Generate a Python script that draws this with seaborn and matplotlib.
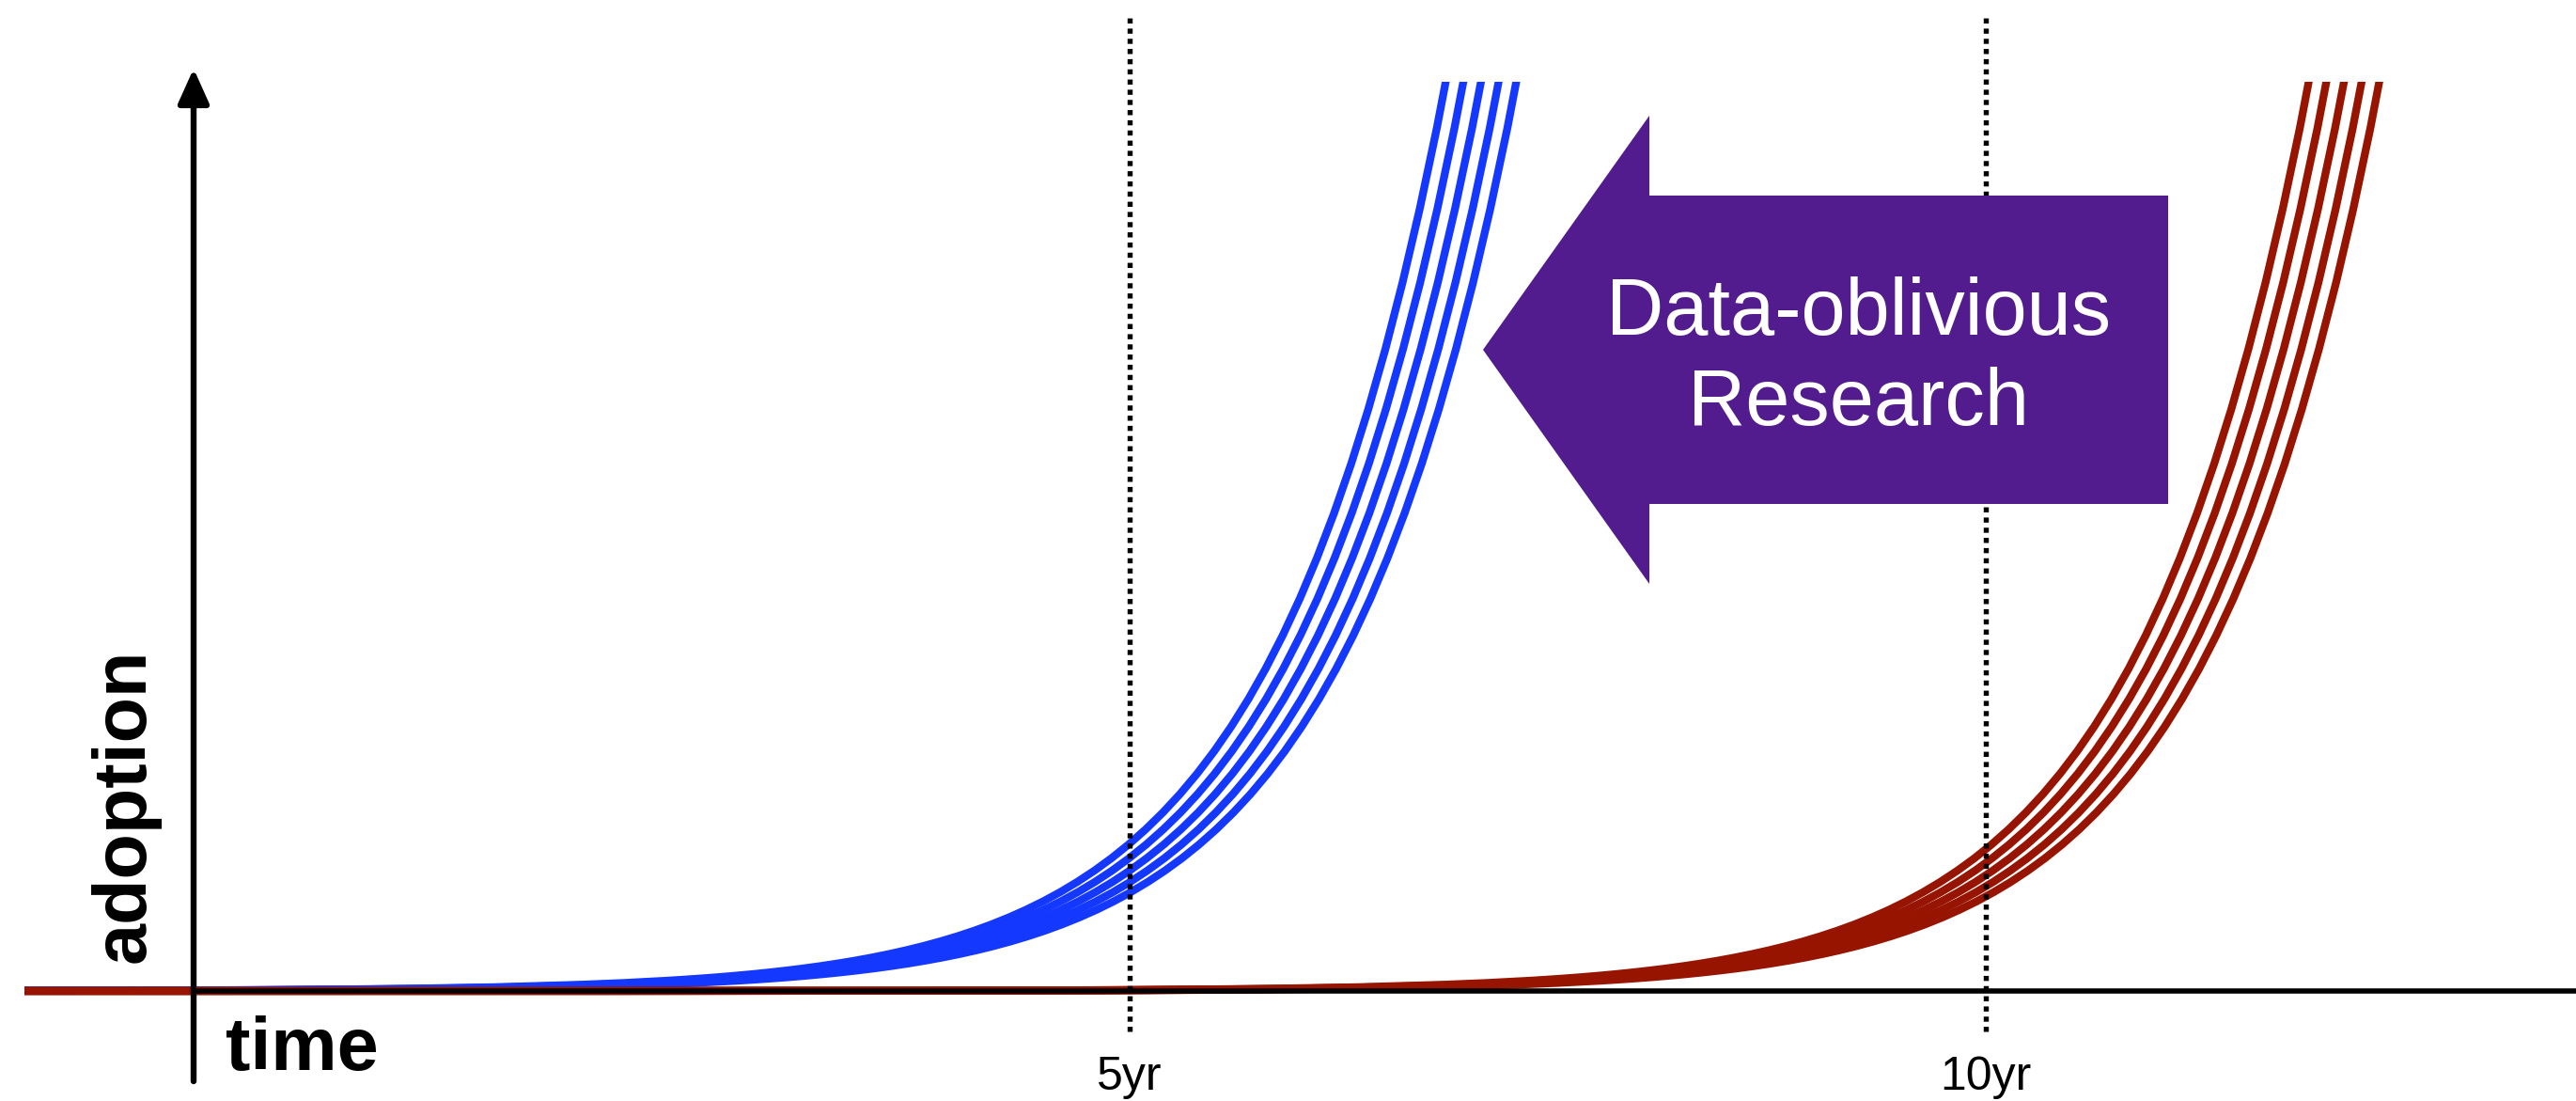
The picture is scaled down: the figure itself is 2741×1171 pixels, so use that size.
import matplotlib
matplotlib.use("Agg")
import matplotlib.pyplot as plt
from matplotlib.patches import Polygon
import pandas as pd
import seaborn as sns

# Adoption along the reference trajectory, read at these years
base_years = [-7.0, -3.0, -1.5, -1.0, -0.5, 0.0, 0.5, 1.0, 1.5, 2.0, 2.25,
              2.5, 2.6, 2.7, 2.8, 2.9, 3.0, 3.1, 3.2, 3.3, 3.4,
              3.5, 3.6, 3.7, 3.8, 3.9, 4.0, 4.1, 4.2, 4.3, 4.4,
              4.5, 4.6, 4.7, 4.8, 4.9, 5.0, 5.1, 5.2, 5.3, 5.4,
              5.5, 5.6, 5.7, 5.8, 5.9, 6.0, 6.1, 6.2, 6.3, 6.4,
              6.5, 6.6, 6.7, 6.8, 6.9, 7.0, 7.1, 7.2, 7.3]
base_adoption = [0.0, 0.0005, 0.0021, 0.0035, 0.0057, 0.0093, 0.0152, 0.0249, 0.0407, 0.0667, 0.0853,
                 0.1091, 0.1204, 0.1329, 0.1466, 0.1618, 0.1785, 0.1970, 0.2174, 0.2399, 0.2648,
                 0.2922, 0.3224, 0.3558, 0.3926, 0.4332, 0.4780, 0.5275, 0.5821, 0.6423, 0.7088,
                 0.7822, 0.8632, 0.9525, 1.0511, 1.1599, 1.2800, 1.4125, 1.5587, 1.7201, 1.8981,
                 2.0946, 2.3114, 2.5507, 2.8147, 3.1061, 3.4276, 3.7824, 4.1739, 4.6060, 5.0828,
                 5.6089, 6.1895, 6.8302, 7.5372, 8.3174, 9.1783, 10.1284, 11.1768, 12.3337]

# Five neighbouring trajectories in each bundle, offset in years
curve_offsets = [-0.206, -0.103, 0.0, 0.103, 0.206]

# Two bundles: the later one trails the earlier one by about five years
tracks = ["early", "late"]
track_shift = [0.0, 5.04]
track_colors = ["#1538FF", "#961400"]

milestone_years = [5, 10]
milestone_labels = ["5yr", "10yr"]

callout_lines = ["Data-oblivious", "Research"]

rows = []
for track, shift in zip(tracks, track_shift):
    for k, off in enumerate(curve_offsets):
        for yr, val in zip(base_years, base_adoption):
            rows.append({"track": track, "curve": f"{track}-{k}",
                         "year": yr + shift + off, "adoption": val})
df = pd.DataFrame(rows)

sns.set_style("white")
plt.rcParams["font.family"] = ["Liberation Sans", "DejaVu Sans"]

W, H = 2741, 1171
fig = plt.figure(figsize=(W / 100, H / 100), dpi=100)
fig.patch.set_facecolor("white")

# layout in pixels: year 0 at x=291, 182.2 px per year; baseline at y=1054, 100 px per unit
X0, PXY, Y0, PXU = 291.0, 182.2, 1054.0, 100.0
LEFT, TOP = 26, 87


def dx(px):
    return (px - X0) / PXY


def dy(py):
    return (Y0 - py) / PXU


ax = fig.add_axes([LEFT / W, 0, 1 - LEFT / W, (H - TOP) / H])

sns.lineplot(data=df, x="year", y="adoption", hue="track", hue_order=tracks,
             units="curve", estimator=None, sort=False,
             palette=dict(zip(tracks, track_colors)), linewidth=6.0,
             legend=False, ax=ax)
for ln in ax.lines:
    ln.set_zorder(2)
    ln.set_solid_capstyle("butt")
    ln.set_solid_joinstyle("round")

ax.set_xlim(dx(LEFT), dx(W))
ax.set_ylim(dy(H), dy(TOP))
ax.axis("off")

# milestone guides
ax.vlines(milestone_years, dy(1097), dy(17), colors="black",
          linestyles=(0, (1, 1.0)), linewidth=3.9, zorder=3, clip_on=False)
for yr, lab in zip(milestone_years, milestone_labels):
    ax.text(yr, dy(1159), lab, ha="center", va="baseline", fontsize=36,
            color="black", clip_on=False)

# time axis
ax.plot([dx(206), dx(W)], [0, 0], color="black", linewidth=4.0,
        solid_capstyle="butt", zorder=6, clip_on=False)

# adoption axis with arrow head
ax.annotate("", xy=(dx(206), dy(73)), xytext=(dx(206), dy(1150)),
            arrowprops=dict(arrowstyle="-|>,head_length=0.8,head_width=0.36",
                            mutation_scale=28, linewidth=4.6, color="black",
                            shrinkA=0, shrinkB=0),
            annotation_clip=False, zorder=7)

ax.text(dx(240), dy(1138), "time", fontsize=57, fontweight="bold",
        ha="left", va="baseline", color="black")
ax.text(dx(133), dy(857), "adoption", fontsize=57, fontweight="bold",
        rotation=90, ha="center", va="center", color="black")

# leftward call-out arrow
arrow_px = [(1578, 372), (1755, 123), (1755, 208), (2307, 208),
            (2307, 536), (1755, 536), (1755, 621)]
arrow = Polygon([(dx(x), dy(y)) for x, y in arrow_px], closed=True,
                facecolor="#521C8F", edgecolor="none", zorder=4, clip_on=False)
ax.add_patch(arrow)

ax.text(dx(1978), dy(356), callout_lines[0], fontsize=61, color="white",
        ha="center", va="baseline", zorder=5)
ax.text(dx(1977), dy(452), callout_lines[1], fontsize=61, color="white",
        ha="center", va="baseline", zorder=5)

fig.savefig("out.png", dpi=100, facecolor="white")
